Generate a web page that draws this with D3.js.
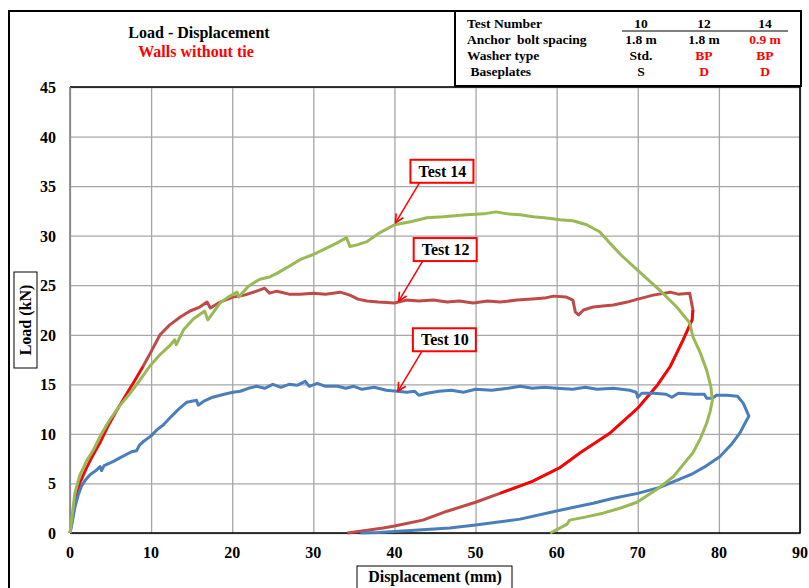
<!DOCTYPE html>
<html>
<head>
<meta charset="utf-8">
<script src="https://cdn.jsdelivr.net/npm/d3@7"></script>
<style>
  body { margin: 0; background: #fff; }
  svg text { font-family: "Liberation Serif", "Times New Roman", serif; font-weight: bold; }
</style>
</head>
<body>
<div id="chart"></div>
<script>
// Load - displacement curves, [displacement mm, load kN]
const test10 = [[0,0],[0.3,1.2],[0.6,2.6],[1.0,3.8],[1.4,4.7],[1.85,5.3],[2.5,5.9],[3.2,6.3],[3.7,6.7],[3.9,6.3],[4.2,6.8],[5.3,7.2],[6.2,7.6],[7.6,8.2],[8.2,8.3],[8.6,8.9],[9.0,9.2],[10.0,9.8],[10.7,10.4],[11.5,10.9],[12.3,11.6],[13.4,12.5],[14.4,13.2],[15.6,13.4],[15.8,12.9],[16.5,13.3],[17.6,13.7],[19,14.0],[20.1,14.2],[21,14.3],[22,14.6],[23,14.8],[24,14.6],[25,15.0],[26,14.7],[27,15.0],[28,14.9],[29,15.3],[29.5,14.8],[30.5,15.1],[31.5,14.8],[33,14.8],[34,14.6],[35,14.8],[36,14.5],[37.5,14.7],[39,14.4],[40.3,14.3],[41.5,14.2],[42.5,14.3],[43,13.9],[44,14.1],[45.5,14.3],[47,14.4],[48.5,14.2],[50,14.5],[52,14.4],[54,14.6],[55.5,14.8],[57,14.6],[58.5,14.7],[60,14.6],[62,14.5],[63.5,14.7],[65,14.5],[67,14.6],[69,14.4],[69.8,14.2],[70,13.7],[70.5,14.1],[72,14.1],[73.5,14.0],[74.2,13.7],[75,14.1],[77,14.0],[78.2,14.0],[78.5,13.6],[79.2,13.6],[79.7,13.9],[81,13.9],[82.3,13.8],[83,13.1],[83.7,11.8],[83.3,11.2],[82.6,10.1],[81.5,8.9],[80.1,7.7],[78.5,6.8],[76.8,6.0],[74.8,5.3],[72.7,4.6],[70,4.0],[67,3.5],[64.5,3.0],[60.4,2.3],[55.5,1.4],[50,0.8],[46.8,0.5],[42,0.25],[38,0.05],[35.8,0]];

const test12 = [[0,0],[0.3,1.5],[0.6,2.8],[1.2,5.0],[2,6.5],[2.8,7.8],[3.7,9.1],[4.7,10.8],[5.8,12.4],[6.8,13.8],[8,15.4],[9,16.8],[10,18.3],[11.1,20.0],[12.3,21.0],[13.6,21.8],[14.8,22.4],[16,22.8],[16.9,23.3],[17.3,22.7],[18.5,23.3],[20.1,23.8],[21.5,24.0],[23,24.4],[24,24.7],[24.6,24.2],[25.5,24.4],[27,24.1],[28.4,24.1],[30,24.2],[31.5,24.1],[33.3,24.3],[34.5,24.0],[35.5,23.6],[36.6,23.4],[38,23.3],[40,23.2],[41.5,23.5],[43,23.4],[44.8,23.5],[46.5,23.3],[48,23.4],[49.7,23.2],[51.5,23.4],[53,23.3],[55.1,23.5],[57,23.6],[58.5,23.7],[59.6,23.9],[61.2,23.8],[62,23.5],[62.3,22.3],[62.7,22.0],[63.3,22.5],[64.5,22.8],[65.7,22.9],[67,23.0],[68.7,23.3],[70,23.6],[71.9,24.0],[74,24.3],[75,24.1],[76.4,24.2],[76.8,22.5],[76.7,21.5],[75.6,19.5],[74,16.8],[72.4,14.9],[70,12.6],[66.6,10.1],[62.9,8.1],[60.4,6.6],[57,5.2],[53,4.0],[50,3.1],[46.5,2.2],[43.5,1.3],[40,0.7],[38.6,0.5],[36,0.2],[34.2,0]];

// parts of test 12 that show in pure red
const test12RedLoad = [[0,0],[0.3,1.5],[0.6,2.8],[1.2,5.0],[2,6.5],[2.8,7.8],[3.7,9.1],[4.7,10.8],[5.8,12.4],[6.8,13.8],[8,15.4],[9,16.8]];
const test12RedUnload = [[76.8,22.5],[76.7,21.5],[75.6,19.5],[74,16.8],[72.4,14.9],[70,12.6],[66.6,10.1],[62.9,8.1],[60.4,6.6],[57,5.2],[53,4.0]];

const test14 = [[0,0],[0.3,2.0],[0.6,4.0],[1.2,5.8],[2,7.2],[2.9,8.4],[3.8,9.9],[4.9,11.4],[6,12.7],[7.4,14.1],[8.6,15.4],[9.8,16.8],[11.1,18.0],[12.3,18.9],[12.9,19.5],[13.1,19.0],[14,20.5],[15.2,21.6],[16.6,22.4],[17,21.5],[18.5,23.2],[19.5,23.8],[20.6,24.3],[20.8,23.8],[22,24.9],[23.4,25.6],[24.5,25.8],[25.5,26.2],[27,26.9],[28.4,27.6],[30,28.1],[31.5,28.7],[33,29.3],[34.1,29.8],[34.5,28.9],[35.5,29.1],[36.6,29.4],[38,30.2],[40,31.1],[42,31.4],[44,31.8],[46,31.9],[48.9,32.1],[51,32.2],[52.5,32.4],[53.9,32.2],[55.5,32.1],[57.1,31.9],[58.5,31.8],[60.4,31.6],[62,31.5],[63.7,31.1],[65.3,30.4],[66.5,29.3],[68,28.0],[70,26.5],[71.5,25.4],[72.7,24.5],[74.8,22.8],[76.4,21.2],[76.8,19.8],[77.7,18.2],[78.5,16.4],[79.0,14.8],[79.2,13.4],[78.9,12.2],[78.5,11.1],[77.7,9.5],[76.8,8.1],[75.6,6.9],[74.4,5.7],[72.7,4.6],[69.9,3.1],[67.8,2.5],[65.7,2.0],[63.5,1.6],[61.6,1.3],[61.3,0.9],[60.4,0.5],[59.2,0]];

const xTicks = [0,10,20,30,40,50,60,70,80,90];
const yTicks = [0,5,10,15,20,25,30,35,40,45];

// callouts: label, arrow target [x, y]
const callouts = [
  { label: "Test 14", target: [40.0, 31.2] },
  { label: "Test 12", target: [40.4, 23.3] },
  { label: "Test 10", target: [40.3, 14.2] }
];

// info table
const tableRows = ["Test Number", "Anchor  bolt spacing", "Washer type", " Baseplates"];
const tableCols = ["10", "12", "14"];
const tableCells = [
  ["1.8 m", "1.8 m", "0.9 m"],
  ["Std.", "BP", "BP"],
  ["S", "D", "D"]
];
const tableRed = [
  [false, false, true],
  [false, true, true],
  [false, true, true]
];

const width = 809, height = 588;
const plot = { left: 70, top: 87, right: 800, bottom: 533 };

const svg = d3.select("#chart").append("svg")
  .attr("width", width)
  .attr("height", height);

const x = d3.scaleLinear().domain([0, 90]).range([plot.left, plot.right]);
const y = d3.scaleLinear().domain([0, 45]).range([plot.bottom, plot.top]);

// outer frame
svg.append("path")
  .attr("d", `M9,588 V11 H456`)
  .attr("fill", "none")
  .attr("stroke", "#000")
  .attr("stroke-width", 2);

// grid
svg.append("g")
  .attr("transform", `translate(0,${plot.bottom})`)
  .call(d3.axisBottom(x).tickValues(xTicks).tickSize(-(plot.bottom - plot.top)).tickFormat(""))
  .call(g => g.select(".domain").remove())
  .selectAll("line")
  .attr("stroke", "#a6a6a6")
  .attr("stroke-width", 1.3);

svg.append("g")
  .attr("transform", `translate(${plot.left},0)`)
  .call(d3.axisLeft(y).tickValues(yTicks).tickSize(-(plot.right - plot.left)).tickFormat(""))
  .call(g => g.select(".domain").remove())
  .selectAll("line")
  .attr("stroke", "#a6a6a6")
  .attr("stroke-width", 1.3);

// plot border
svg.append("path")
  .attr("d", `M${plot.left},${plot.top} H${plot.right} V${plot.bottom} H${plot.left}`)
  .attr("fill", "none")
  .attr("stroke", "#000")
  .attr("stroke-width", 1.6);
svg.append("line")
  .attr("x1", plot.left).attr("x2", plot.left)
  .attr("y1", plot.top).attr("y2", plot.bottom)
  .attr("stroke", "#7f7f7f")
  .attr("stroke-width", 1.6);

// tick labels
svg.append("g").selectAll("text")
  .data(xTicks)
  .enter().append("text")
  .attr("x", d => x(d))
  .attr("y", 558)
  .attr("text-anchor", "middle")
  .attr("font-size", 16)
  .text(d => d);

svg.append("g").selectAll("text")
  .data(yTicks)
  .enter().append("text")
  .attr("x", 56)
  .attr("y", d => y(d) + 6)
  .attr("text-anchor", "end")
  .attr("font-size", 16)
  .text(d => d);

// axis titles in boxes
svg.append("rect")
  .attr("x", 357).attr("y", 566).attr("width", 155).attr("height", 30)
  .attr("fill", "#fff").attr("stroke", "#000").attr("stroke-width", 1);
svg.append("text")
  .attr("x", 435).attr("y", 582)
  .attr("text-anchor", "middle")
  .attr("font-size", 16)
  .text("Displacement (mm)");

svg.append("rect")
  .attr("x", 14).attr("y", 272).attr("width", 23).attr("height", 96)
  .attr("fill", "#fff").attr("stroke", "#000").attr("stroke-width", 1);
svg.append("text")
  .attr("transform", "translate(31,320) rotate(-90)")
  .attr("text-anchor", "middle")
  .attr("font-size", 16)
  .text("Load (kN)");

// curves
const line = d3.line().x(d => x(d[0])).y(d => y(d[1]));

const series = [
  { data: test12, color: "#be4b48", w: 3 },
  { data: test12RedLoad, color: "#ff0000", w: 2 },
  { data: test12RedUnload, color: "#ff0000", w: 2.6 },
  { data: test10, color: "#4a7ebb", w: 3 },
  { data: test14, color: "#98b954", w: 3 }
];

series.forEach(s => {
  svg.append("path")
    .datum(s.data)
    .attr("fill", "none")
    .attr("stroke", s.color)
    .attr("stroke-width", s.w)
    .attr("stroke-linejoin", "round")
    .attr("d", line);
});

// titles
svg.append("text")
  .attr("x", 199).attr("y", 38)
  .attr("text-anchor", "middle")
  .attr("font-size", 16)
  .attr("fill", "#000")
  .text("Load - Displacement");
svg.append("text")
  .attr("x", 196).attr("y", 57)
  .attr("text-anchor", "middle")
  .attr("font-size", 16)
  .attr("fill", "#ff0000")
  .text("Walls without tie");

// info table
const table = svg.append("g");
table.append("rect")
  .attr("x", 455).attr("y", 11).attr("width", 346).attr("height", 75)
  .attr("fill", "#fff").attr("stroke", "#000").attr("stroke-width", 2);

const rowY = [28, 44, 60, 76];
const colX = [641, 704, 765];

table.selectAll(".row-label")
  .data(tableRows)
  .enter().append("text")
  .attr("class", "row-label")
  .attr("x", 467)
  .attr("y", (d, i) => rowY[i])
  .attr("font-size", 13.5)
  .style("white-space", "pre")
  .text(d => d);

table.selectAll(".col-head")
  .data(tableCols)
  .enter().append("text")
  .attr("class", "col-head")
  .attr("x", (d, i) => colX[i])
  .attr("y", rowY[0])
  .attr("text-anchor", "middle")
  .attr("font-size", 13.5)
  .text(d => d);

table.append("line")
  .attr("x1", 622).attr("x2", 788)
  .attr("y1", 31).attr("y2", 31)
  .attr("stroke", "#000").attr("stroke-width", 1.2);

tableCells.forEach((row, r) => {
  row.forEach((val, c) => {
    table.append("text")
      .attr("x", colX[c])
      .attr("y", rowY[r + 1])
      .attr("text-anchor", "middle")
      .attr("font-size", 13.5)
      .attr("fill", tableRed[r][c] ? "#ff0000" : "#000")
      .text(val);
  });
});

// callouts
svg.append("defs").append("marker")
  .attr("id", "arrow")
  .attr("viewBox", "0 0 10 10")
  .attr("refX", 9).attr("refY", 5)
  .attr("markerWidth", 7).attr("markerHeight", 7)
  .attr("orient", "auto")
  .append("path")
  .attr("d", "M1,1 L9,5 L1,9")
  .attr("fill", "none")
  .attr("stroke", "#ff0000")
  .attr("stroke-width", 1.5);

callouts.forEach(c => {
  const tx = x(c.target[0]), ty = y(c.target[1]);
  const bx = tx + 16, by = ty - 64;
  const g = svg.append("g");
  g.append("line")
    .attr("x1", tx + 25).attr("y1", ty - 41)
    .attr("x2", tx + 1).attr("y2", ty - 1)
    .attr("stroke", "#ff0000")
    .attr("stroke-width", 1.5)
    .attr("marker-end", "url(#arrow)");
  g.append("rect")
    .attr("x", bx).attr("y", by).attr("width", 63).attr("height", 23)
    .attr("fill", "#fff").attr("stroke", "#ff0000").attr("stroke-width", 2);
  g.append("text")
    .attr("x", bx + 32).attr("y", by + 17)
    .attr("text-anchor", "middle")
    .attr("font-size", 16)
    .attr("fill", "#000")
    .text(c.label);
});
</script>
</body>
</html>
